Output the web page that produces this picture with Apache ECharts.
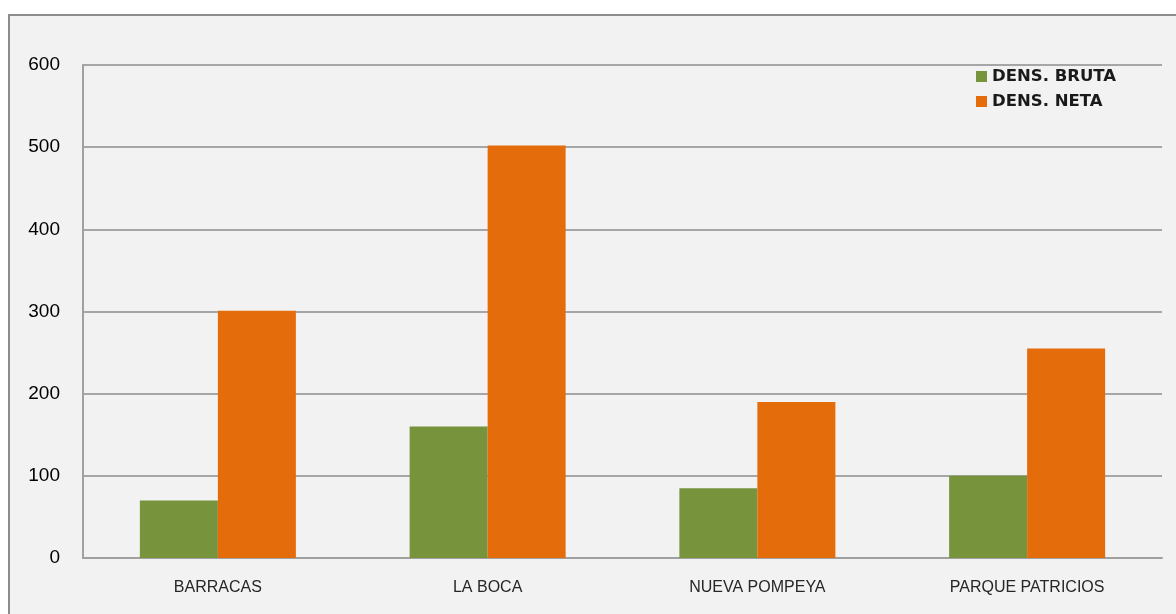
<!DOCTYPE html>
<html>
<head>
<meta charset="utf-8">
<script src="https://cdn.jsdelivr.net/npm/echarts@6/dist/echarts.min.js"></script>
<style>
html,body{margin:0;padding:0;background:#ffffff;overflow:hidden;}
#frame{position:absolute;left:8px;top:14px;width:1300px;height:700px;border:2px solid #8c8c8c;background:#f2f2f2;}
#chart{position:absolute;left:0;top:0;width:1176px;height:614px;}
</style>
</head>
<body>
<div id="frame"></div>
<div id="chart"></div>
<script>
const categories = ['BARRACAS', 'LA BOCA', 'NUEVA POMPEYA', 'PARQUE PATRICIOS'];
const densBruta = [70, 160, 85, 100];
const densNeta = [301, 502, 190, 255];
const seriesNames = ['DENS. BRUTA', 'DENS. NETA'];

const chart = echarts.init(document.getElementById('chart'), null, {renderer: 'canvas'});
chart.setOption({
  backgroundColor: 'transparent',
  animation: false,
  grid: {left: 83, right: 14, top: 65, bottom: 56, containLabel: false},
  legend: {
    orient: 'vertical', left: 971, top: 63, itemWidth: 11, itemHeight: 11, itemGap: 8,
    icon: 'rect',
    textStyle: {fontFamily: 'DejaVu Sans', fontWeight: 'bold', fontSize: 16.5, color: '#1a1a1a'},
    data: seriesNames
  },
  xAxis: {
    type: 'category', data: categories,
    axisLine: {show: true, lineStyle: {color: '#a0a0a0', width: 2}},
    axisTick: {show: false},
    axisLabel: {fontFamily: 'Liberation Sans', fontSize: 16, color: '#262626', margin: 22}
  },
  yAxis: {
    type: 'value', min: 0, max: 600, interval: 100,
    axisLine: {show: true, lineStyle: {color: '#a0a0a0', width: 2}},
    axisTick: {show: false},
    splitLine: {lineStyle: {color: '#a6a6a6', width: 2}},
    axisLabel: {fontFamily: 'Liberation Sans', fontSize: 19, color: '#000000', margin: 23}
  },
  series: [
    {name: seriesNames[0], type: 'bar', data: densBruta, barWidth: 78, barGap: '0%',
     itemStyle: {color: '#77933c'}},
    {name: seriesNames[1], type: 'bar', data: densNeta, barWidth: 78,
     itemStyle: {color: '#e46c0a'}}
  ]
});
</script>
</body>
</html>
